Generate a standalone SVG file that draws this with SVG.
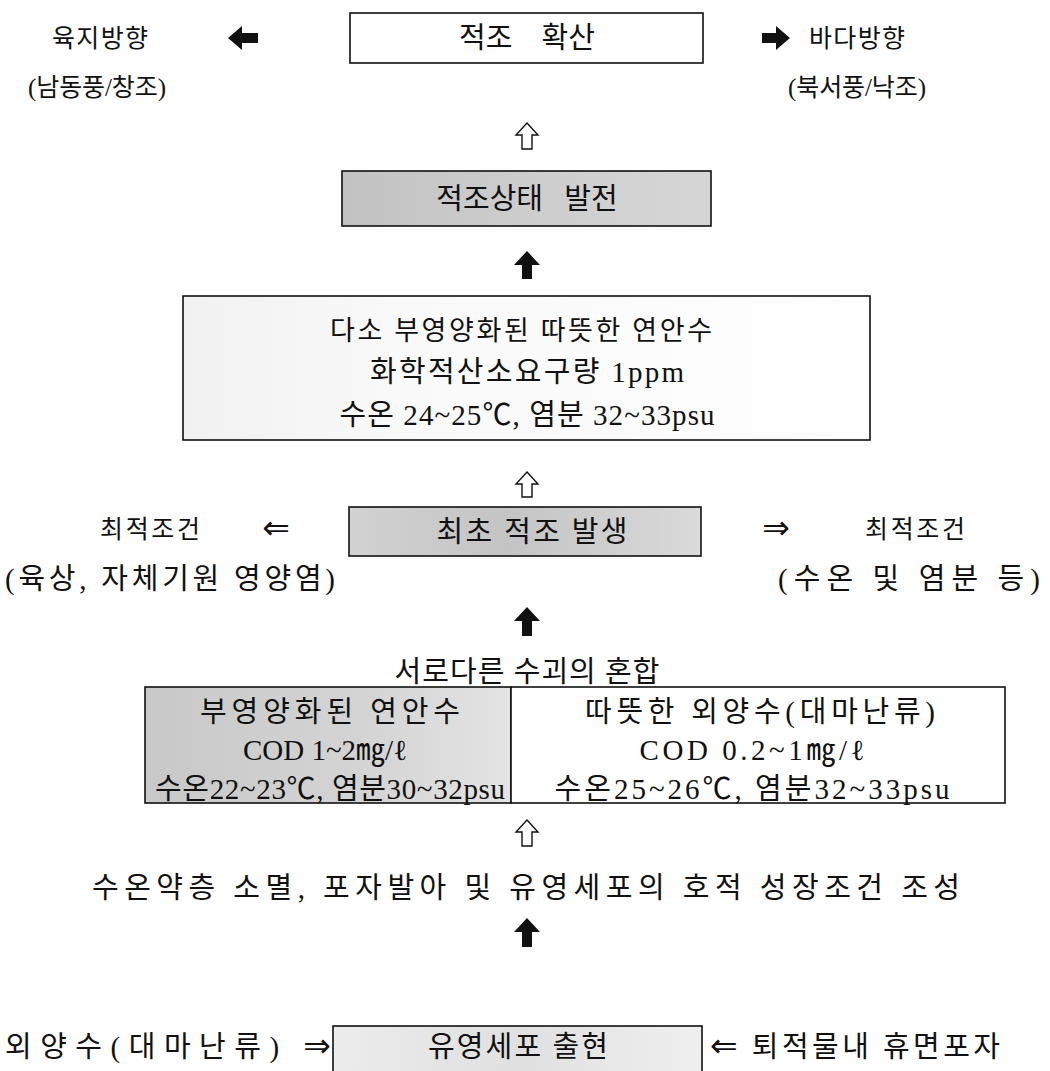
<svg xmlns="http://www.w3.org/2000/svg" width="1050" height="1071" viewBox="0 0 1050 1071">
<defs>
<style>
text{font-family:"Liberation Serif","Noto Sans CJK KR",serif;font-size:29px;fill:#111;}
.c{text-anchor:middle;}
.s{font-size:25px;}
.m{font-size:27px;}
.ar{font-family:"DejaVu Sans",sans-serif;font-size:33px;}
.box{stroke:#111;stroke-width:1.6;}
.blk{fill:#111;stroke:none;}
.hol{fill:#fff;stroke:#111;stroke-width:1.4;stroke-linejoin:miter;}
</style>
<linearGradient id="g1" x1="0" y1="0" x2="1" y2="0">
<stop offset="0" stop-color="#c2c2c2"/><stop offset="0.5" stop-color="#cdcdcd"/><stop offset="1" stop-color="#d6d6d6"/>
</linearGradient>
<linearGradient id="g2" x1="0" y1="0" x2="1" y2="0">
<stop offset="0" stop-color="#d2d2d2"/><stop offset="0.45" stop-color="#c4c4c4"/><stop offset="1" stop-color="#dadada"/>
</linearGradient>
<linearGradient id="g3" x1="0" y1="0" x2="1" y2="0">
<stop offset="0" stop-color="#c8c8c8"/><stop offset="0.6" stop-color="#d4d4d4"/><stop offset="1" stop-color="#e4e4e4"/>
</linearGradient>
<linearGradient id="g4" x1="0" y1="0" x2="1" y2="0">
<stop offset="0" stop-color="#ececec"/><stop offset="0.5" stop-color="#e0e0e0"/><stop offset="1" stop-color="#efefef"/>
</linearGradient>
<linearGradient id="g5" x1="0" y1="0" x2="1" y2="0">
<stop offset="0" stop-color="#f1f1f1"/><stop offset="0.3" stop-color="#f9f9f9"/><stop offset="1" stop-color="#ffffff"/>
</linearGradient>
</defs>
<rect width="1050" height="1071" fill="#fff"/>

<g id="connectors">
<polygon class="blk" points="228,38 242,26 242,33 258,33 258,43 242,43 242,50"/>
<polygon class="blk" points="790,38 776,26 776,33 762,33 762,43 776,43 776,50"/>
<polygon class="hol" points="527,123 538,135 532,135 532,149 522,149 522,135 516,135"/>
<polygon class="blk" points="527,251 540,265 532,265 532,279 522,279 522,265 514,265"/>
<polygon class="hol" points="527,472 538,484 532,484 532,497 522,497 522,484 516,484"/>
<polygon class="blk" points="527,607 540,621 532,621 532,636 522,636 522,621 514,621"/>
<polygon class="hol" points="527,820 538,832 532,832 532,846 522,846 522,832 516,832"/>
<polygon class="blk" points="527,918 540,932 532,932 532,947 522,947 522,932 514,932"/>
</g>

<g id="land-direction">
<text class="c s" x="100" y="47" textLength="96">육지방향</text>
<text class="c s" x="97" y="96" textLength="138">(남동풍/창조)</text>
</g>
<g id="sea-direction">
<text class="c s" x="857" y="47" textLength="96">바다방향</text>
<text class="c s" x="857" y="96" textLength="138">(북서풍/낙조)</text>
</g>
<g id="spread">
<rect class="box" x="350" y="13" width="353" height="50" fill="#fff"/>
<text class="c" x="527" y="48" word-spacing="22">적조 확산</text>
</g>
<g id="develop">
<rect class="box" x="342" y="171" width="369" height="55" fill="url(#g1)"/>
<text class="c" x="527" y="209" word-spacing="14">적조상태 발전</text>
</g>
<g id="coastal-warm">
<rect class="box" x="183" y="296" width="687" height="144" fill="url(#g5)"/>
<text class="c m" x="521" y="340" textLength="382">다소 부영양화된 따뜻한 연안수</text>
<text class="c" x="527" y="382" textLength="314">화학적산소요구량 1ppm</text>
<text class="c" x="527" y="425" textLength="375">수온 24~25℃, 염분 32~33psu</text>
</g>
<g id="opt-left">
<text class="c s" x="150" y="538" textLength="100">최적조건</text>
<text class="c" x="170" y="589" textLength="330">(육상, 자체기원 영양염)</text>
<text class="c ar" x="276" y="539">⇐</text>
</g>
<g id="first-bloom">
<rect class="box" x="349" y="507" width="352" height="49" fill="url(#g2)"/>
<text class="c" x="532" y="542" textLength="191">최초 적조 발생</text>
</g>
<g id="opt-right">
<text class="c ar" x="776" y="539">⇒</text>
<text class="c s" x="915" y="538" textLength="100">최적조건</text>
<text class="c" x="909" y="589" textLength="262">(수온 및 염분 등)</text>
</g>
<g id="mixing">
<text class="c" x="527" y="682" textLength="265">서로다른 수괴의 혼합</text>
<rect class="box" x="145" y="687" width="366" height="116" fill="url(#g3)"/>
<rect class="box" x="511" y="687" width="494" height="116" fill="#fff"/>
<text class="c" x="330" y="722" textLength="260">부영양화된 연안수</text>
<text class="c" x="325" y="760">COD 1~2㎎/ℓ</text>
<text class="c" x="330" y="799" textLength="350">수온22~23℃, 염분30~32psu</text>
<text class="c" x="760" y="722" textLength="350">따뜻한 외양수(대마난류)</text>
<text class="c" x="752" y="760" textLength="225">COD 0.2~1㎎/ℓ</text>
<text class="c" x="752" y="799" textLength="395">수온25~26℃, 염분32~33psu</text>
</g>
<g id="conditions">
<text class="c" x="526" y="898" textLength="868">수온약층 소멸, 포자발아 및 유영세포의 호적 성장조건 조성</text>
</g>
<g id="swim-cell">
<text x="5" y="1057" font-size="30" textLength="326">외양수(대마난류) <tspan class="ar">⇒</tspan></text>
<rect class="box" x="333" y="1026" width="369" height="60" fill="url(#g4)"/>
<text class="c" x="518" y="1057" textLength="180">유영세포 출현</text>
<text x="710" y="1057" textLength="290"><tspan class="ar">⇐</tspan> 퇴적물내 휴면포자</text>
</g>
</svg>
